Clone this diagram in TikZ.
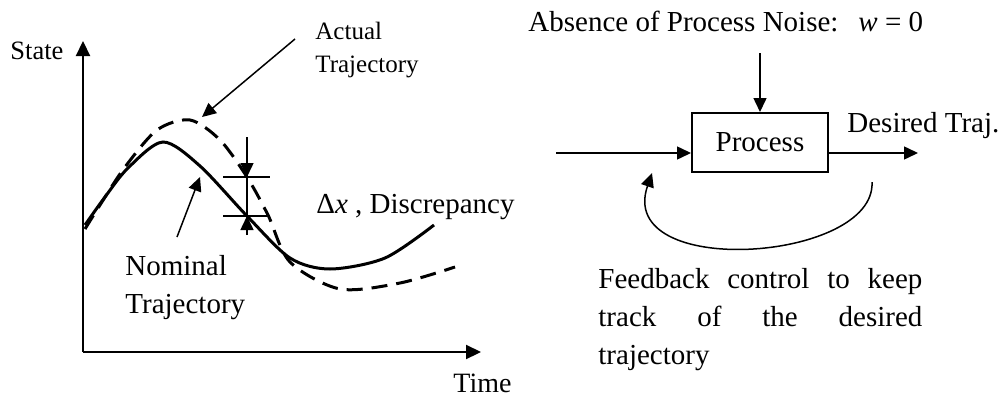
\documentclass[tikz,border=0pt]{standalone}
\usepackage{fontspec}
\setmainfont{Liberation Serif}
\usetikzlibrary{arrows.meta}
\usetikzlibrary{positioning}
\tikzset{txt/.style = {inner sep = 0, font = \fontsize{14.5}{19}\selectfont}}
\tikzset{small/.style = {inner sep = 0, font = \fontsize{12.5}{16.5}\selectfont}}
\tikzset{arr/.style = {-{Triangle[length = 7pt, width = 6.5pt]}, line width = 0.75pt}}
\tikzset{ax/.style = {-{Triangle[length = 7.5pt, width = 7pt]}, line width = 1.1pt}}
\tikzset{traj/.style = {line width = 1.5pt}}
\tikzset{blk/.style = {draw, line width = 1pt, minimum width = 68pt, minimum height = 29.5pt, inner sep = 0}}

\begin{document}
\begin{tikzpicture}[x = 0.5pt, y = -0.5pt]
      \useasboundingbox (0, 0) rectangle (1006, 396);

      \coordinate (origin) at (83, 352);
      \coordinate (ytop) at (83, 41);
      \coordinate (xend) at (481, 352);
      \draw [ax] (origin) -- (ytop);
      \draw [ax] (origin) -- (xend);
      \node [small, font = \fontsize{13.25}{16}\selectfont, anchor = base west] (state) at (10, 59) {State};
      \node [txt, font = \fontsize{14}{17}\selectfont, anchor = base west] (time) at (453, 392) {Time};

      \draw [traj] plot [smooth] coordinates {(85, 225) (105, 197) (128, 168) (163, 142) (200, 166) (247, 216) (290, 258) (330, 269) (385, 258) (434, 225)};
      \draw [traj, dash pattern = on 8pt off 4.5pt] plot [smooth] coordinates {(85, 229) (100, 205) (125, 167) (157, 130) (190, 120) (220, 140) (247, 177) (268, 215) (290, 262) (340, 289) (400, 283) (455, 267)};

      \coordinate (dtop) at (247, 137);
      \coordinate (dup) at (247, 177);
      \coordinate (dlo) at (247, 216);
      \coordinate (dbot) at (247, 235);
      \draw [line width = 1pt] ([xshift = -12pt] dup) -- ([xshift = 11.5pt] dup);
      \draw [line width = 1pt] ([xshift = -12pt] dlo) -- ([xshift = 11.5pt] dlo);
      \draw [arr] (dtop) -- (dup);
      \draw [line width = 0.75pt] (dup) -- (dlo);
      \draw [arr] (dbot) -- (dlo);
      \node [txt, anchor = base west] (discr) at (316, 213) {Δ\textit{x} , Discrepancy};

      \node [small, anchor = base west, align = left] (actual) at (315, 72) {Actual\\Trajectory};
      \coordinate (afrom) at (295, 39);
      \coordinate (ato) at (202, 117);
      \draw [arr] (afrom) -- (ato);

      \node [txt, anchor = base west, align = left] (nominal) at (125, 313) {Nominal\\Trajectory};
      \coordinate (nfrom) at (177, 237);
      \coordinate (nto) at (200, 177);
      \draw [arr] (nfrom) -- (nto);

      \node [txt, anchor = base west] (noise) at (528, 32) {Absence of Process Noise:\hspace{10pt}\textit{w} = 0};
      \node [blk, txt, draw, inner sep = 0] (proc) at (760, 142.5) {Process};
      \coordinate (ntop) at (760, 53);
      \draw [arr] (ntop) -- (proc.north);
      \coordinate (uin) at (556, 153);
      \coordinate (yout) at (918, 153);
      \draw [arr] (uin) -- (uin -| proc.west);
      \draw [arr] (yout -| proc.east) -- (yout);
      \node [txt, anchor = base west] (desired) at (847, 132) {Desired Traj.};

      \coordinate (fbstart) at (872, 182);
      \coordinate (fbend) at (652, 173);
      \draw [arr] (fbstart) .. controls (876, 262) and (615, 280) .. (fbend);
      \node [txt, anchor = base west, text width = 162pt, align = justify] (fbtext) at (598, 288)
        {Feedback control to keep\linebreak track of the desired\linebreak trajectory};
\end{tikzpicture}
\end{document}
